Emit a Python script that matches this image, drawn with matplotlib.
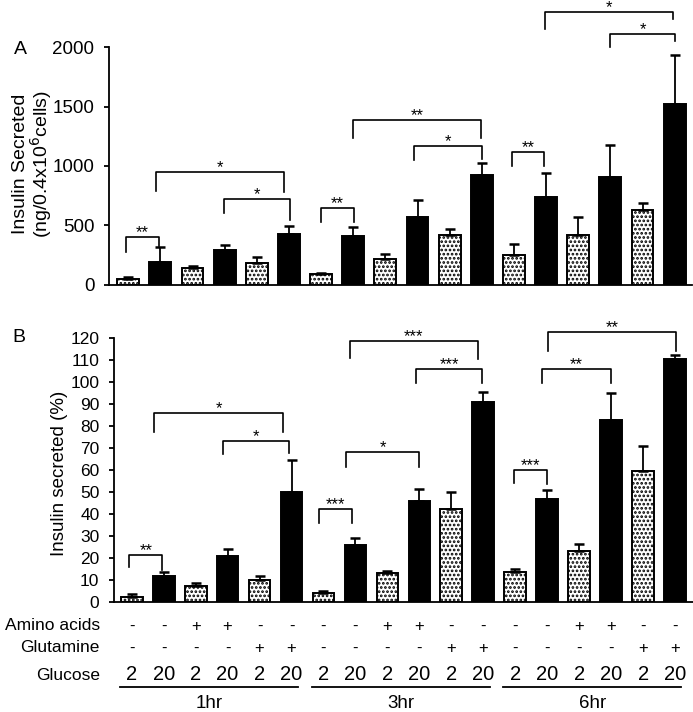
import matplotlib
matplotlib.use("Agg")
import matplotlib.pyplot as plt
import matplotlib.transforms as mtransforms
import numpy as np

plt.rcParams["font.family"] = ["Liberation Sans", "DejaVu Sans"]
plt.rcParams["hatch.linewidth"] = 1.3

# ---------- data ----------
time_groups = ["1hr", "3hr", "6hr"]
amino_acids = ["-", "-", "+", "+", "-", "-"] * 3
glutamine = ["-", "-", "-", "-", "+", "+"] * 3
glucose = ["2", "20", "2", "20", "2", "20"] * 3

# panel A: ng / 0.4x10^6 cells
insulin_ng = [50, 194, 138, 292, 183, 424,
              87, 407, 213, 573, 416, 921,
              247, 739, 416, 907, 632, 1520]
insulin_ng_err = [15, 126, 22, 42, 47, 70,
                  14, 82, 45, 140, 56, 104,
                  96, 202, 151, 273, 56, 418]

# panel B: % secreted
insulin_pct = [2.3, 12.1, 7.4, 21, 10, 49.9,
               4.1, 26, 13.1, 45.9, 42.2, 91,
               13.8, 46.7, 23.4, 82.7, 59.5, 110.3]
insulin_pct_err = [1.4, 1.7, 1.2, 3.2, 2, 14.6,
                   1.2, 3.2, 1.3, 5.6, 7.7, 4.5,
                   1.3, 4.2, 3, 12.1, 11.5, 2]

# significance brackets: (left, right, top, left foot, right foot, label)
sig_a = [
    (-0.07, 0.96, 399, 278, 330, "**"),
    (0.86, 4.84, 947, 789, 784, "*"),
    (2.97, 5.02, 719, 601, 545, "*"),
    (6.0, 7.02, 643, 531, 525, "**"),
    (7.0, 10.98, 1388, 1233, 1233, "**"),
    (8.9, 11.0, 1169, 1051, 1059, "*"),
    (11.94, 12.94, 1121, 1003, 1003, "**"),
    (12.97, 16.94, 2295, 2154, 2239, "*"),
    (15.0, 17.0, 2112, 2000, 2056, "*"),
]
sig_b = [
    (-0.07, 0.96, 21.5, 15.9, 14.7, "**"),
    (0.71, 4.72, 85.7, 77.4, 77.4, "*"),
    (2.87, 4.91, 73.3, 67.3, 67.6, "*"),
    (5.87, 6.88, 42.2, 35.8, 35.8, "***"),
    (6.71, 8.99, 68.3, 61.2, 61.2, "*"),
    (6.83, 10.83, 118.6, 110.9, 110.3, "***"),
    (8.9, 10.97, 105.6, 99.3, 99.3, "***"),
    (11.96, 12.98, 60.0, 54.3, 53.7, "***"),
    (12.84, 14.99, 105.8, 99.6, 99.6, "**"),
    (13.03, 17.02, 122.4, 114.0, 114.0, "**"),
]

W, H = 693, 712


def fx(px):
    return px / W


def fy(py):
    return 1 - py / H


def draw_bars(ax, vals, errs):
    x = np.arange(len(vals))
    for i, (v, g) in enumerate(zip(vals, glucose)):
        if g == "20":
            ax.bar(x[i], v, width=0.68, color="black", edgecolor="black", lw=1.4, zorder=2)
        else:
            ax.bar(x[i], v, width=0.68, color="white", edgecolor="black", lw=1.4,
                   hatch="....", zorder=2)
    ax.errorbar(x, vals, yerr=[np.zeros(len(errs)), errs], fmt="none",
                ecolor="black", elinewidth=1.3, capsize=3.5, capthick=1.8, zorder=3)


def draw_sig(ax, sigs):
    for x1, x2, top, b1, b2, lab in sigs:
        ax.plot([x1, x1, x2, x2], [b1, top, top, b2], color="black", lw=1.2,
                clip_on=False, zorder=4)
        ax.annotate(lab, ((x1 + x2) / 2, top), xytext=(0, 0), textcoords="offset points",
                    ha="center", va="baseline", fontsize=12, annotation_clip=False)


def style_axis(ax, top):
    for s in ["top", "right"]:
        ax.spines[s].set_visible(False)
    ax.spines["left"].set_bounds(0, top)
    ax.spines["left"].set_linewidth(1.3)
    ax.spines["bottom"].set_linewidth(1.3)
    ax.set_xticks([])
    ax.tick_params(axis="y", direction="out", length=3.5, width=1.3, pad=7)


fig = plt.figure(figsize=(W / 100, H / 100), dpi=100)

# panel A
axA = fig.add_axes([fx(109), fy(284.7), fx(692 - 109), (284.7 - 5) / H])
draw_bars(axA, insulin_ng, insulin_ng_err)
draw_sig(axA, sig_a)
axA.set_xlim(-0.6, 17.54)
axA.set_ylim(0, 279.7 / 0.1187)
axA.set_yticks([0, 500, 1000, 1500, 2000])
axA.tick_params(axis="y", labelsize=13.5)
style_axis(axA, 2000)

# panel B
axB = fig.add_axes([fx(114), fy(602.3), fx(693 - 114), (602.3 - 318) / H])
draw_bars(axB, insulin_pct, insulin_pct_err)
draw_sig(axB, sig_b)
axB.set_xlim(-0.554, 17.56)
axB.set_ylim(0, 284.3 / 2.205)
axB.set_yticks(np.arange(0, 121, 10))
axB.tick_params(axis="y", labelsize=12.5)
style_axis(axB, 120)

# labels
fig.text(fx(20), fy(49), "A", fontsize=14, ha="center", va="center")
fig.text(fx(19), fy(337), "B", fontsize=14, ha="center", va="center")
fig.text(fx(33), fy(164), "Insulin Secreted\n(ng/0.4x10$^6$cells)", rotation=90,
         fontsize=14, ha="center", va="center", linespacing=1.0)
fig.text(fx(60), fy(473), "Insulin secreted (%)", rotation=90,
         fontsize=13.5, ha="center", va="center")

# condition table below panel B
trans = mtransforms.blended_transform_factory(axB.transData, fig.transFigure)
rows = [("Amino acids", amino_acids, 626, 12), ("Glutamine", glutamine, 648, 12),
        ("Glucose", glucose, 675, 14.5)]
for name, vals, py, fs in rows:
    fig.text(fx(100), fy(py), name, fontsize=12.5, ha="right", va="center")
    for i, v in enumerate(vals):
        axB.text(i, fy(py), v, transform=trans, fontsize=fs, ha="center", va="center")

for k, g in enumerate(time_groups):
    x0, x1 = 6 * k - 0.37, 6 * k + 5.2
    axB.plot([x0, x1], [fy(687), fy(687)], transform=trans, color="black",
             lw=1.3, clip_on=False)
    axB.text((x0 + x1) / 2, fy(703), g, transform=trans, fontsize=13.5,
             ha="center", va="center")

fig.savefig("out.png", dpi=100)
